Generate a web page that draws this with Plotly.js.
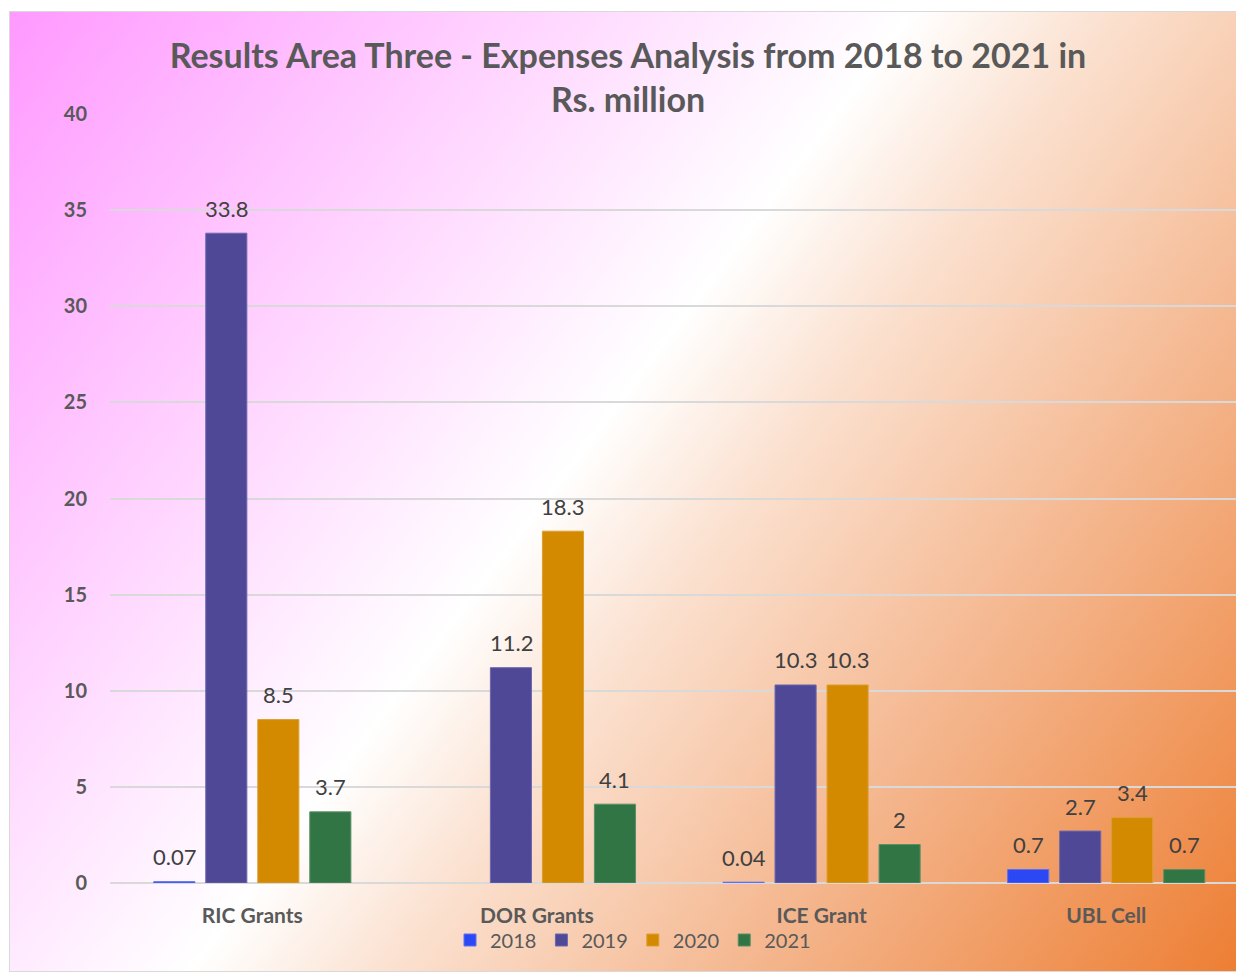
<!DOCTYPE html>
<html>
<head>
<meta charset="utf-8">
<script src="https://cdn.plot.ly/plotly-3.0.1.min.js"></script>
<style>
  html, body { margin: 0; padding: 0; background: #ffffff; }
  #bg {
    position: absolute; left: 9px; top: 11px; width: 1240px; height: 959px;
    border: 1px solid #d9d9d9;
    background: linear-gradient(127deg, #ff99ff 0%, #ffcfff 24%, #ffffff 46%, #fbe1d0 56%, #f4b58c 75%, #ed7d31 100%);
  }
  #chart { position: absolute; left: 0; top: 0; width: 1236px; height: 972px; }
</style>
</head>
<body>
<div id="bg"></div>
<div id="chart"></div>
<script>
const categories = ["RIC Grants", "DOR Grants", "ICE Grant", "UBL Cell"];
const seriesNames = ["2018", "2019", "2020", "2021"];
const values2018 = [0.07, null, 0.04, 0.7];
const values2019 = [33.8, 11.2, 10.3, 2.7];
const values2020 = [8.5, 18.3, 10.3, 3.4];
const values2021 = [3.7, 4.1, 2, 0.7];
const yTicks = [0, 5, 10, 15, 20, 25, 30, 35, 40];

const colors = ["#2b48f4", "#4f4897", "#d48a00", "#327544"];
const edges = ["#5a70f6", "#6d67ad", "#dc9f33", "#5a8f68"];
const allValues = [values2018, values2019, values2020, values2021];

const traces = allValues.map((vals, i) => ({
  type: "bar",
  name: seriesNames[i],
  x: categories,
  y: vals,
  marker: { color: colors[i], line: { color: edges[i], width: 1 } },
  hoverinfo: "x+y+name"
}));

// data labels above each bar, taken from the same arrays
const barPitch = 51.9;
const annotations = [];
allValues.forEach((vals, i) => {
  vals.forEach((v, j) => {
    if (v === null) return;
    annotations.push({
      x: categories[j], y: v, xref: "x", yref: "y",
      text: String(v), showarrow: false,
      xshift: (i - 1.5) * barPitch, yshift: 25,
      xanchor: "center", yanchor: "middle",
      font: { family: "Lato, sans-serif", size: 22, color: "#404040" }
    });
  });
});

const layout = {
  width: 1236,
  height: 972,
  paper_bgcolor: "rgba(0,0,0,0)",
  plot_bgcolor: "rgba(0,0,0,0)",
  margin: { l: 110, r: 0, t: 114, b: 89, pad: 0 },
  barmode: "group",
  bargap: 0.269,
  bargroupgap: 0.21,
  title: {
    text: "Results Area Three - Expenses Analysis from 2018 to 2021 in<br>Rs. million",
    font: { family: "Lato, sans-serif", size: 34, color: "#595959", weight: "bold" },
    x: 628 / 1236,
    xanchor: "center",
    xref: "container",
    y: 1 - 68 / 972,
    yanchor: "top",
    yref: "container"
  },
  font: { family: "Lato, sans-serif", color: "#595959" },
  annotations: annotations,
  xaxis: {
    type: "category",
    range: [-0.5, 3.456],
    showgrid: false,
    showline: false,
    zeroline: false,
    ticks: "",
    ticklabelstandoff: 18,
    tickfont: { family: "Lato, sans-serif", size: 21, color: "#595959", weight: "bold" },
    fixedrange: true
  },
  yaxis: {
    range: [0, 40],
    tickvals: yTicks,
    ticktext: yTicks.map(String),
    showgrid: true,
    gridcolor: "#d9d9d9",
    gridwidth: 1.5,
    zeroline: true,
    zerolinecolor: "#d9d9d9",
    zerolinewidth: 1.5,
    showline: false,
    ticks: "",
    ticklabelstandoff: 22,
    tickfont: { family: "Lato, sans-serif", size: 20, color: "#595959", weight: "bold" },
    fixedrange: true
  },
  showlegend: true,
  legend: {
    orientation: "h",
    x: (633 - 110) / 1126,
    xanchor: "center",
    y: (883 - 940) / 769,
    yanchor: "middle",
    bgcolor: "rgba(0,0,0,0)",
    font: { family: "Lato, sans-serif", size: 20, color: "#595959" },
    itemwidth: 30,
    traceorder: "normal"
  }
};

Plotly.newPlot("chart", traces, layout, { displayModeBar: false });
</script>
</body>
</html>
